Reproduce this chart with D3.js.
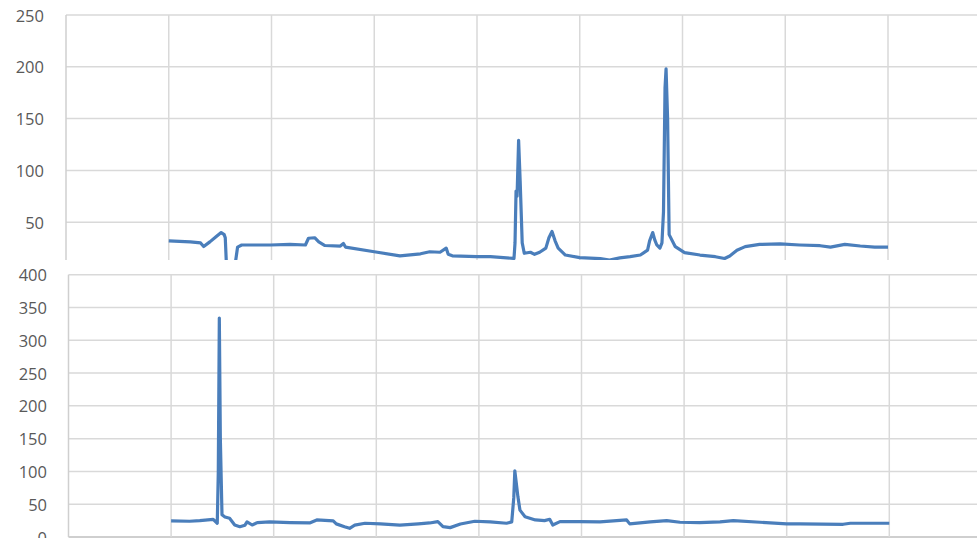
<!DOCTYPE html>
<html>
<head>
<meta charset="utf-8">
<script src="https://cdn.jsdelivr.net/npm/d3@7"></script>
<style>
  html, body { margin: 0; padding: 0; background: #fff; overflow: hidden; }
  svg { display: block; font-family: "Open Sans", sans-serif; }
</style>
</head>
<body>
<div id="viz"></div>
<script>
// x positions are in "grid units": one vertical gridline every 100
const topX = [100, 121, 131, 134, 140, 146, 151, 154, 155, 156, 165, 167, 171, 199, 218, 233, 236, 242, 246, 252,
  267, 270, 272, 300, 325, 345, 354, 364, 370, 372, 376, 400, 413, 436, 437, 438, 439, 440.5, 442, 444,
  446, 452, 456, 461, 467, 470, 473, 476, 479, 486, 500, 520, 529, 539, 549, 559, 566, 568, 571, 573,
  575, 578, 580, 581.5, 583, 584, 585.5, 587, 593, 602, 617, 632, 641, 646, 653, 661, 675, 695, 714, 734,
  744, 758, 773, 787, 800]
const topV = [32, 31, 30, 26.5, 31, 36, 40, 38, 35, 12, 12, 26, 28, 28, 28.5, 28, 34.5, 35, 31, 27.5,
  27, 29.5, 26, 21.5, 17.5, 19.5, 21.5, 21, 25, 19, 17.5, 16.7, 16.7, 15, 30, 80, 75, 129, 90, 30,
  20, 21, 19, 21, 25, 35, 41, 32, 25, 18.3, 15.8, 14.8, 13.5, 15.5, 16.7, 18.3, 23, 32, 40, 33,
  28, 25, 30, 60, 180, 198, 150, 38, 26.4, 20.6, 18.3, 16.7, 15, 17.4, 23, 26.4, 28.6, 29, 28, 27.3,
  26, 28.6, 27, 26, 26]
const topTicks = [0, 50, 100, 150, 200, 250]

const botX = [100, 118, 128, 141, 145, 146, 147, 148, 149.6, 152.5, 157, 162, 167, 172, 174, 179, 184, 196, 216, 235,
  242, 258, 261, 269, 274, 279, 289, 304, 323, 341, 352, 360, 365, 372, 382, 396, 411, 427, 432, 434,
  435, 437, 438, 440, 445, 455, 464, 469, 472, 479, 498, 518, 544, 547, 567, 583, 596, 615, 635, 648,
  674, 700, 713, 755, 762, 800]
const botV = [24.5, 24, 25, 27, 21, 100, 334, 150, 34, 30.5, 28.5, 18.3, 15.7, 18, 23, 18.3, 22, 23, 22, 21.4,
  26, 24.5, 20, 15.7, 13.3, 18, 21, 20, 18, 20, 21.4, 23.4, 15.7, 14.3, 19.9, 24, 23, 21, 23, 60,
  101, 75, 61.6, 41, 31, 26, 25, 27, 18.3, 23.4, 23.4, 23, 26, 20, 23, 25, 22.5, 22, 23, 25,
  22.5, 20, 20, 19.4, 21, 21]
const botTicks = [0, 50, 100, 150, 200, 250, 300, 350, 400]

const width = 977
const height = 538
const gridX = [0, 100, 200, 300, 400, 500, 600, 700, 800, 900]

const svg = d3.select("#viz").append("svg")
  .attr("width", width)
  .attr("height", height)

function drawPanel(opts) {
  const g = svg.append("g")
  const x = d3.scaleLinear().domain([0, 900]).range([opts.left, opts.left + 900 * opts.step])
  const y = d3.scaleLinear().domain([0, opts.max]).range([opts.zeroY, opts.topY])

  const clipId = "clip" + opts.name
  svg.append("clipPath").attr("id", clipId)
    .append("rect")
      .attr("x", opts.left - 2).attr("y", opts.topY - 2)
      .attr("width", width).attr("height", opts.clipBottom - opts.topY + 2)

  const plot = g.append("g").attr("clip-path", `url(#${clipId})`)

  // horizontal gridlines
  plot.selectAll("line.h")
    .data(opts.ticks)
    .enter()
    .append("line")
      .attr("x1", opts.left).attr("x2", width)
      .attr("y1", d => y(d)).attr("y2", d => y(d))
      .attr("stroke", d => d === 0 ? "#bfbfbf" : "#d9d9d9")
      .attr("stroke-width", 1.5)

  // vertical gridlines
  plot.selectAll("line.v")
    .data(gridX)
    .enter()
    .append("line")
      .attr("x1", d => x(d)).attr("x2", d => x(d))
      .attr("y1", opts.topY).attr("y2", opts.zeroY)
      .attr("stroke", d => d === 0 ? "#cfcfcf" : "#d9d9d9")
      .attr("stroke-width", 1.5)

  const line = d3.line()
    .x((d, i) => x(opts.xs[i]))
    .y(d => y(d))

  plot.append("path")
    .datum(opts.vs)
    .attr("d", line)
    .attr("fill", "none")
    .attr("stroke", "#4a7ebb")
    .attr("stroke-width", 3.2)
    .attr("stroke-linejoin", "round")

  // tick labels
  g.selectAll("text")
    .data(opts.ticks.filter(d => y(d) <= opts.clipBottom + 10))
    .enter()
    .append("text")
      .attr("x", opts.labelX)
      .attr("y", d => y(d))
      .attr("dy", "0.4em")
      .attr("text-anchor", "end")
      .attr("fill", "#595959")
      .attr("font-size", 16.5)
      .text(d => d)
}

drawPanel({ name: "top", xs: topX, vs: topV, ticks: topTicks.filter(d => d > 0), max: 250,
  left: 66, step: 1.0275, topY: 15, zeroY: 274, clipBottom: 260, labelX: 44 })

drawPanel({ name: "bot", xs: botX, vs: botV, ticks: botTicks, max: 400,
  left: 68.5, step: 1.026, topY: 274.7, zeroY: 537, clipBottom: 538, labelX: 47 })
</script>
</body>
</html>
